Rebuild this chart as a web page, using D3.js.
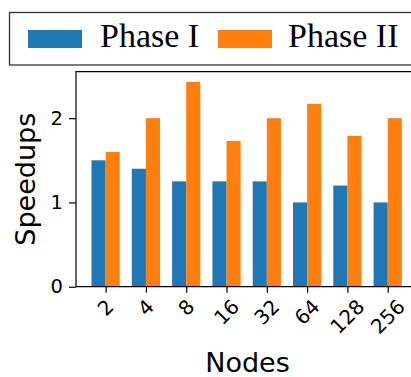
<!DOCTYPE html>
<html><head><meta charset="utf-8">
<script src="https://cdn.jsdelivr.net/npm/d3@7"></script>
<style>html,body{margin:0;padding:0;background:#fff;overflow:hidden}</style>
</head><body>
<svg id="c" width="411" height="377"></svg>
<script>
const categories = ["2","4","8","16","32","64","128","256"];
const phase1 = [1.5, 1.4, 1.25, 1.25, 1.25, 1.0, 1.2, 1.0];
const phase2 = [1.6, 2.0, 2.43, 1.73, 2.0, 2.17, 1.79, 2.0];
const seriesNames = ["Phase I", "Phase II"];
const colors = ["#1f77b4", "#ff7f0e"];
const yTicks = [0, 1, 2];

const svg = d3.select("#c");
const L = 76, T = 71.7, B = 286.7;
const unit = 40.3;
const x = d3.scaleLinear().domain([-0.735, 7.735]).range([L, L + 8.47 * unit]);
const y = d3.scaleLinear().domain([0, 2.43 * 1.05]).range([B, T]);
const bw = 0.35;

const g = svg.append("g");
[phase1, phase2].forEach((vals, s) => {
  g.selectAll(null).data(vals).enter().append("rect")
    .attr("x", (d, i) => x(i + (s === 0 ? -bw : 0)))
    .attr("width", (d, i) => x(i + bw) - x(i))
    .attr("y", d => y(d))
    .attr("height", d => y(0) - y(d))
    .attr("fill", colors[s]);
});

const R = x(7.735);
svg.append("path").attr("d", `M${L},${B}V${T}H${R}`).attr("fill","none").attr("stroke","#000").attr("stroke-width",1.2);
svg.append("line").attr("x1", L).attr("x2", R).attr("y1", B).attr("y2", B).attr("stroke","#000").attr("stroke-width",1.2);

const yAxis = d3.axisLeft(y).tickValues(yTicks).tickFormat(d3.format("d")).tickSize(7).tickPadding(6);
const ya = svg.append("g").attr("transform", `translate(${L},0)`).call(yAxis);
ya.select(".domain").remove();
ya.selectAll("line").attr("stroke","#000").attr("stroke-width",1.2);
ya.selectAll("text").attr("font-family","DejaVu Sans").attr("font-size",19.5).attr("fill","#000");

const xAxis = d3.axisBottom(x).tickValues(d3.range(categories.length)).tickFormat("").tickSize(6);
const xa = svg.append("g").attr("transform", `translate(0,${B})`).call(xAxis);
xa.select(".domain").remove();
xa.selectAll("line").attr("stroke","#000").attr("stroke-width",1.2);

const labTop = 298;
categories.forEach((c, i) => {
  const t = svg.append("text").text(c)
    .attr("font-family","DejaVu Sans").attr("font-size",20).attr("fill","#000")
    .attr("text-anchor","middle").attr("dominant-baseline","central");
  const w = t.node().getComputedTextLength();
  const h = 14.5;
  const bh = (w + h) / Math.SQRT2;
  t.attr("transform", `translate(${x(i)},${labTop + bh / 2}) rotate(-45)`);
});

svg.append("text").text("Nodes").attr("x", 247.5).attr("y", 372)
  .attr("text-anchor","middle").attr("font-family","DejaVu Sans").attr("font-size",27).attr("fill","#000");
svg.append("text").text("Speedups").attr("transform", `translate(35,${(T+B)/2}) rotate(-90)`)
  .attr("text-anchor","middle").attr("font-family","DejaVu Sans").attr("font-size",27).attr("fill","#000");

svg.append("rect").attr("x", 9.5).attr("y", 12.5).attr("width", 420).attr("height", 52.5)
  .attr("fill","#fff").attr("stroke","#333").attr("stroke-width",1.3);
const legX = [28, 218], textX = [100, 288];
seriesNames.forEach((n, s) => {
  svg.append("rect").attr("x", legX[s]).attr("y", 30).attr("width", 54).attr("height", 18).attr("fill", colors[s]);
  svg.append("text").text(n).attr("x", textX[s]).attr("y", 47)
    .attr("font-family","Liberation Serif").attr("font-size",34).attr("fill","#000");
});
</script>
</body></html>
